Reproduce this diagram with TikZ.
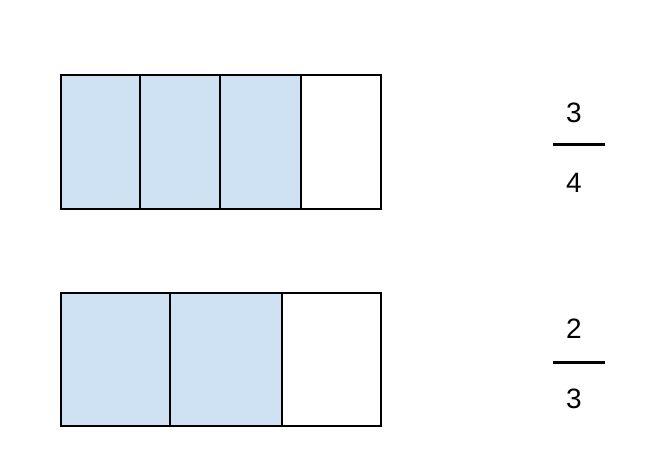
\documentclass[tikz,border=0pt]{standalone}
\usepackage{fontspec}
\setmainfont{Liberation Sans}
\definecolor{cellblue}{HTML}{CFE2F3}
\begin{document}
\begin{tikzpicture}[x=1pt,y=-1pt,
  cell/.style={draw=black,line width=1.8pt,line join=miter},
  shaded/.style={cell,fill=cellblue},
  digit/.style={inner sep=0pt,font=\fontsize{28}{32}\selectfont},
  bar/.style={line width=3pt}]
\useasboundingbox (0,0) rectangle (661,473);
% top bar: 3/4
\filldraw[shaded] (61,75) rectangle (140,209);
\filldraw[shaded] (140,75) rectangle (220,209);
\filldraw[shaded] (220,75) rectangle (301,209);
\draw[cell] (301,75) rectangle (381,209);
% bottom bar: 2/3
\filldraw[shaded] (61,293) rectangle (170,426);
\filldraw[shaded] (170,293) rectangle (282,426);
\draw[cell] (282,293) rectangle (381,426);
% fractions
\node[digit] (n1) at (574,112.5) {3};
\node[digit] (d1) at (574,183) {4};
\coordinate (b1l) at (553,145);
\coordinate (b1r) at (605,145);
\draw[bar] (b1l) -- (b1r);
\node[digit] (n2) at (574,329) {2};
\node[digit] (d2) at (574,399) {3};
\coordinate (b2l) at (553,362);
\coordinate (b2r) at (605,362);
\draw[bar] (b2l) -- (b2r);
\end{tikzpicture}
\end{document}
